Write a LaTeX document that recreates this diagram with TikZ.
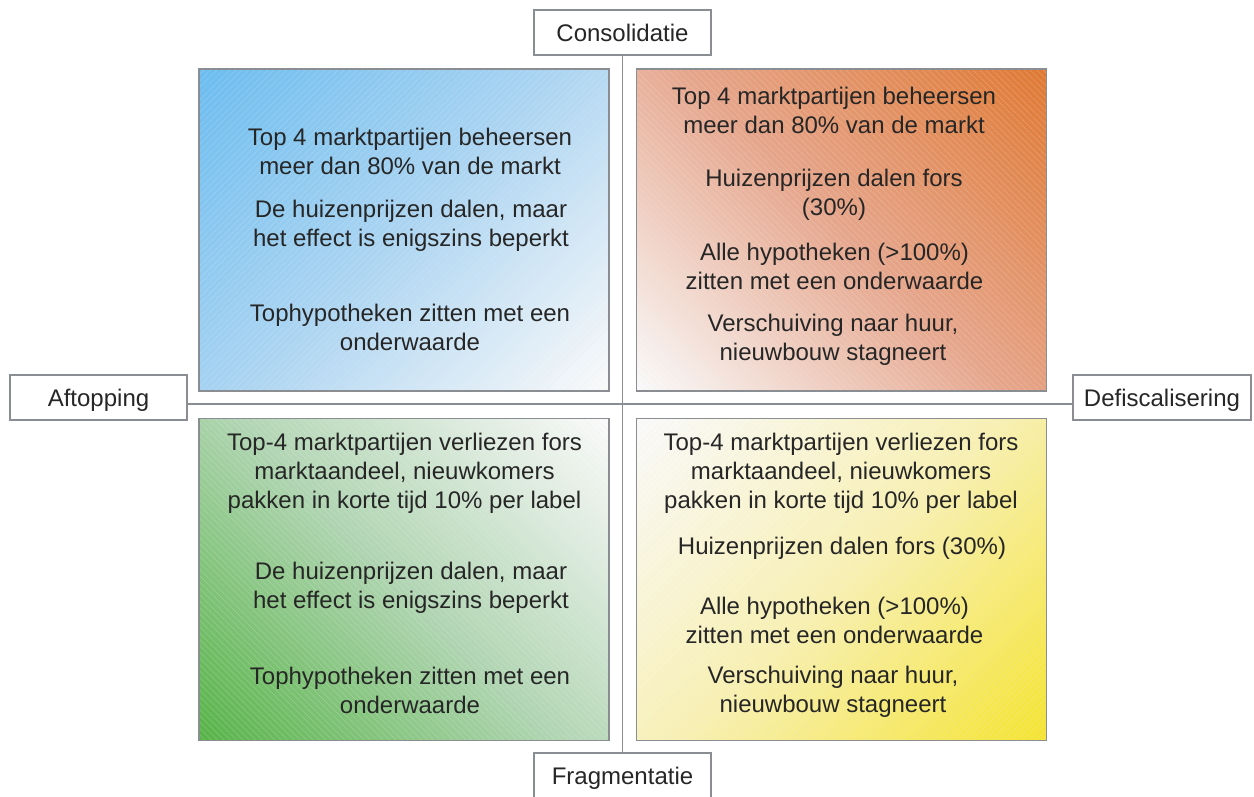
\documentclass[tikz,border=0pt]{standalone}
\usepackage{fontspec}
\setmainfont{Liberation Sans}
\usetikzlibrary{patterns.meta}
\definecolor{framegray}{HTML}{8A8E93}
\definecolor{txt}{HTML}{262626}
\definecolor{qwhite}{HTML}{FAFAFA}
\definecolor{qblue}{HTML}{6CBDF0}
\definecolor{qbluemid}{HTML}{ACD5F2}
\definecolor{qorange}{HTML}{E07A34}
\definecolor{qorangemid}{HTML}{E6A68C}
\definecolor{qgreen}{HTML}{58B448}
\definecolor{qgreenmid}{HTML}{B2D6B4}
\definecolor{qyellow}{HTML}{F5E432}
\definecolor{qyellowmid}{HTML}{F8F0B2}
\pgfdeclareverticalshading{gblue}{100bp}{color(0bp)=(qwhite); color(15bp)=(qwhite); color(50bp)=(qbluemid); color(85bp)=(qblue); color(100bp)=(qblue)}
\pgfdeclareverticalshading{gorange}{100bp}{color(0bp)=(qwhite); color(15bp)=(qwhite); color(50bp)=(qorangemid); color(85bp)=(qorange); color(100bp)=(qorange)}
\pgfdeclareverticalshading{ggreen}{100bp}{color(0bp)=(qgreen); color(15bp)=(qgreen); color(50bp)=(qgreenmid); color(85bp)=(qwhite); color(100bp)=(qwhite)}
\pgfdeclareverticalshading{gyellow}{100bp}{color(0bp)=(qyellow); color(15bp)=(qyellow); color(50bp)=(qyellowmid); color(85bp)=(qwhite); color(100bp)=(qwhite)}
\tikzset{
  axisbox/.style={draw=framegray, line width=1.5pt, fill=white, rectangle,
    minimum width=177pt, minimum height=45pt, inner sep=0pt, text=txt,
    text height=17pt, text depth=0pt,
    font=\fontsize{24}{29}\selectfont},
  quad/.style={rectangle, inner sep=0pt, line width=1.5pt,
    minimum width=410pt, minimum height=322pt},
  stripesNE/.style={postaction={pattern={Lines[angle=45,distance=4.5pt,line width=0.35pt]}, pattern color=white!92!black, opacity=0.35},
    postaction={draw=framegray, line width=1.5pt}},
  stripesNW/.style={postaction={pattern={Lines[angle=-45,distance=4.5pt,line width=0.35pt]}, pattern color=white!92!black, opacity=0.35},
    postaction={draw=framegray, line width=1.5pt}},
  para/.style={align=center, text=txt, inner sep=0pt,
    font=\fontsize{24}{29}\selectfont},
  axisline/.style={draw=framegray, line width=1.5pt}
}
\begin{document}
\begin{tikzpicture}[x=1pt,y=-1pt]
\useasboundingbox (0,0) rectangle (1254,796);
% axis label boxes
\node[axisbox, text depth=-4pt] (cons) at (622.5,32.5) {Consolidatie};
\node[axisbox, text depth=-3pt] (frag) at (622.5,775.5) {Fragmentatie};
\node[axisbox] (aft) at (98.5,397.5) {Aftopping};
\node[axisbox, minimum width=178pt] (defi) at (1162,397.5) {Defiscalisering};
\coordinate (mid) at (623,404);
% axes
\draw[axisline] (cons.south) -- (frag.north);
\draw[axisline] (aft.east |- mid) -- (defi.west |- mid);
% quadrants
\node[quad, shading=gblue, shading angle=45, stripesNE] (q1) at (404,230) {};
\node[quad, shading=gorange, shading angle=-45, stripesNW] (q2) at (841.5,230) {};
\node[quad, shading=ggreen, shading angle=-45, stripesNW] (q3) at (404,579.5) {};
\node[quad, shading=gyellow, shading angle=45, stripesNE] (q4) at (841.5,579.5) {};
% texts top-left
\node[para] (t1a) at (410,151.5) {Top 4 marktpartijen beheersen\\meer dan 80\% van de markt};
\node[para] (t1b) at (411,225.5) {De huizenprijzen dalen, maar\\het effect is enigszins beperkt};
\node[para] (t1c) at (410,327) {Tophypotheken zitten met een\\onderwaarde};
% texts top-right
\node[para] (t2a) at (834,110) {Top 4 marktpartijen beheersen\\meer dan 80\% van de markt};
\node[para] (t2b) at (834,195) {Huizenprijzen dalen fors\\(30\%)};
\node[para] (t2c) at (834.5,266.5) {Alle hypotheken (>100\%)\\zitten met een onderwaarde};
\node[para] (t2d) at (833,339.5) {Verschuiving naar huur,\\nieuwbouw stagneert};
% texts bottom-left
\node[para] (t3a) at (404.5,473.5) {Top-4 marktpartijen verliezen fors\\marktaandeel, nieuwkomers\\pakken in korte tijd 10\% per label};
\node[para] (t3b) at (411,588) {De huizenprijzen dalen, maar\\het effect is enigszins beperkt};
\node[para] (t3c) at (410,690) {Tophypotheken zitten met een\\onderwaarde};
% texts bottom-right
\node[para] (t4a) at (841,473.5) {Top-4 marktpartijen verliezen fors\\marktaandeel, nieuwkomers\\pakken in korte tijd 10\% per label};
\node[para] (t4b) at (842,548.5) {Huizenprijzen dalen fors (30\%)};
\node[para] (t4c) at (834.5,620) {Alle hypotheken (>100\%)\\zitten met een onderwaarde};
\node[para] (t4d) at (833,692) {Verschuiving naar huur,\\nieuwbouw stagneert};
\end{tikzpicture}
\end{document}
